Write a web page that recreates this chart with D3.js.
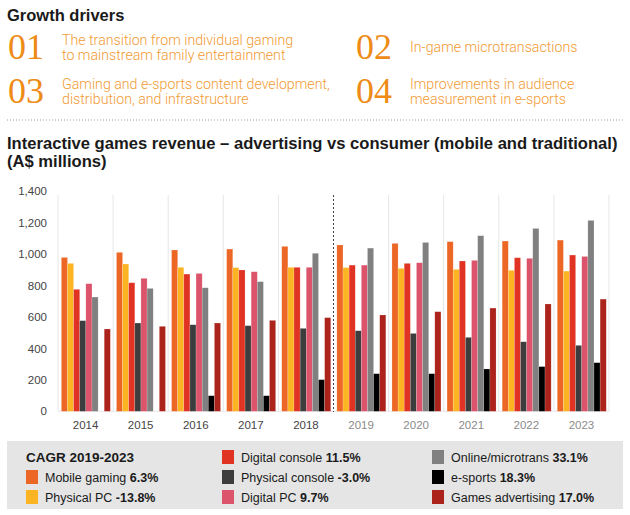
<!DOCTYPE html>
<html>
<head>
<meta charset="utf-8">
<script src="https://cdn.jsdelivr.net/npm/d3@7"></script>
<style>
  body { margin: 0; background: #fff; }
  svg { display: block; font-family: "Liberation Sans", Arial, sans-serif; }
</style>
</head>
<body>
<div id="chart"></div>
<script>
// Years on the x axis (2019 onward are forecast)
const years = ['2014', '2015', '2016', '2017', '2018', '2019', '2020', '2021', '2022', '2023'];
const forecastFrom = '2019';

// Series values, A$ millions
const mobileGaming     = [978, 1010, 1025, 1031, 1048, 1057, 1067, 1078, 1082, 1088];
const physicalPC       = [940, 936, 915, 913, 915, 913, 908, 902, 896, 891];
const digitalConsole   = [775, 817, 872, 898, 915, 929, 940, 955, 976, 993];
const physicalConsole  = [576, 561, 550, 544, 527, 512, 495, 470, 442, 419];
const digitalPC        = [811, 845, 876, 887, 915, 929, 944, 959, 972, 984];
const onlineMicro      = [726, 781, 785, 824, 1004, 1037, 1073, 1116, 1162, 1213];
const eSports          = [0, 0, 99, 99, 201, 239, 239, 269, 284, 309];
const gamesAdvertising = [523, 540, 561, 578, 595, 612, 633, 656, 682, 713];

// Series names, colours and CAGR labels
const seriesNames = ['Mobile gaming', 'Physical PC', 'Digital console', 'Physical console',
  'Digital PC', 'Online/microtrans', 'e-sports', 'Games advertising'];
const seriesColors = ['#EC6726', '#FDB423', '#E03323', '#3D3D3D', '#DB546B', '#808080', '#000000', '#AC231B'];
const seriesCagr = ['6.3%', '-13.8%', '11.5%', '-3.0%', '9.7%', '33.1%', '18.3%', '17.0%'];
const seriesValues = [mobileGaming, physicalPC, digitalConsole, physicalConsole,
  digitalPC, onlineMicro, eSports, gamesAdvertising];

// Value axis ticks
const yTicks = [0, 200, 400, 600, 800, 1000, 1200, 1400];

// Growth drivers text
const driverNumbers = ['01', '02', '03', '04'];
const driverLines = [
  ['The transition from individual gaming', 'to mainstream family entertainment'],
  ['In-game microtransactions'],
  ['Gaming and e-sports content development,', 'distribution, and infrastructure'],
  ['Improvements in audience', 'measurement in e-sports']
];

// Legend placement order: [column, row]
const legendSlots = [[0, 1], [0, 2], [1, 0], [1, 1], [1, 2], [2, 0], [2, 1], [2, 2]];

/*------------------------------------------------------*/

const width = 630, height = 515;
const svg = d3.select('#chart').append('svg')
  .attr('width', width)
  .attr('height', height);

/*
 * Header: growth drivers
 */
svg.append('text')
  .attr('x', 7).attr('y', 21)
  .style('font-size', '16.5px').style('font-weight', 'bold').style('fill', '#1a1a1a')
  .text('Growth drivers');

const driverPos = [[7, 41], [355, 41], [7, 85], [355, 85]];
driverNumbers.forEach((num, i) => {
  const [x, y] = driverPos[i];
  svg.append('text')
    .attr('x', x + 1).attr('y', y + 18)
    .style('font-family', '"Liberation Serif", "DejaVu Serif", serif')
    .style('font-size', '36px').style('fill', '#EE8B16')
    .text(num);
  const lines = driverLines[i];
  const top = lines.length === 1 ? y + 11 : y + 4;
  lines.forEach((line, j) => {
    svg.append('text')
      .attr('x', x + 55).attr('y', top + j * 14.5)
      .style('font-family', 'Roboto, Lato, sans-serif')
      .style('font-weight', 300)
      .style('font-size', '14.2px').style('fill', '#F29A33')
      .text(line);
  });
});

// Dotted separator
svg.append('line')
  .attr('x1', 7).attr('x2', 623).attr('y1', 120).attr('y2', 120)
  .style('stroke', '#9a9a9a').style('stroke-width', 1).style('stroke-dasharray', '1,2');

// Chart title
svg.append('text')
  .attr('x', 7).attr('y', 149)
  .style('font-size', '16.6px').style('font-weight', 'bold').style('fill', '#1a1a1a')
  .text('Interactive games revenue \u2013 advertising vs consumer (mobile and traditional)');
svg.append('text')
  .attr('x', 7).attr('y', 167)
  .style('font-size', '16.6px').style('font-weight', 'bold').style('fill', '#1a1a1a')
  .text('(A$ millions)');

/*
 * Bar chart
 */
const x0 = d3.scaleBand()
  .domain(years)
  .range([58, 609])
  .padding(0);

const x1 = d3.scaleBand()
  .domain(d3.range(seriesNames.length))
  .range([0, x0.bandwidth()])
  .paddingInner(0)
  .paddingOuter(0.5)
  .align(0.55);

const y = d3.scaleLinear()
  .domain([0, 1400])
  .range([411.3, 191]);

// Vertical separators between years
const grid = svg.append('g');
years.forEach((yr) => {
  if (yr === forecastFrom) return;
  grid.append('line')
    .attr('x1', x0(yr)).attr('x2', x0(yr))
    .attr('y1', 195).attr('y2', 411)
    .style('stroke', '#e6e6e6').style('stroke-width', 1);
});
grid.append('line')
  .attr('x1', x0.range()[1]).attr('x2', x0.range()[1])
  .attr('y1', 195).attr('y2', 411)
  .style('stroke', '#e6e6e6').style('stroke-width', 1);

// Baseline
grid.append('line')
  .attr('x1', x0.range()[0]).attr('x2', x0.range()[1])
  .attr('y1', y(0)).attr('y2', y(0))
  .style('stroke', '#e6e6e6').style('stroke-width', 1);

// Bars
const rows = years.map((yr, i) => ({ year: yr, values: seriesValues.map((s) => s[i]) }));
const groups = svg.append('g').selectAll('g')
  .data(rows)
  .enter().append('g')
  .attr('transform', (d) => 'translate(' + x0(d.year) + ',0)');

groups.selectAll('rect')
  .data((d) => d.values.map((v, k) => ({ k: k, v: v })))
  .enter().append('rect')
  .attr('x', (d) => x1(d.k))
  .attr('width', x1.bandwidth())
  .attr('y', (d) => y(d.v))
  .attr('height', (d) => y(0) - y(d.v))
  .style('fill', (d) => seriesColors[d.k])
  .style('stroke', 'rgba(255,255,255,0.35)')
  .style('stroke-width', 0.5);

// Forecast divider
svg.append('line')
  .attr('x1', x0(forecastFrom)).attr('x2', x0(forecastFrom))
  .attr('y1', 195).attr('y2', 412)
  .style('stroke', '#444').style('stroke-width', 1).style('stroke-dasharray', '2,2');

// Y axis labels
const yAxis = d3.axisLeft(y)
  .tickValues(yTicks)
  .tickFormat(d3.format(','))
  .tickSize(0)
  .tickPadding(0);
const yAxisG = svg.append('g')
  .attr('transform', 'translate(47,0)')
  .call(yAxis);
yAxisG.select('.domain').remove();
yAxisG.selectAll('text')
  .style('font-family', '"Liberation Sans", Arial, sans-serif')
  .style('font-size', '11.5px').style('fill', '#444');

// X axis labels
const xAxis = d3.axisBottom(x0).tickSize(0).tickPadding(0);
const xAxisG = svg.append('g')
  .attr('transform', 'translate(0,420)')
  .call(xAxis);
xAxisG.select('.domain').remove();
xAxisG.selectAll('text')
  .attr('dy', '0.75em')
  .style('font-family', '"Liberation Sans", Arial, sans-serif')
  .style('font-size', '11.5px')
  .style('fill', (d) => (d >= forecastFrom ? '#8a8a8a' : '#444'));

/*
 * Legend
 */
svg.append('rect')
  .attr('x', 7).attr('y', 441).attr('width', 616).attr('height', 68)
  .style('fill', '#e5e5e5');

svg.append('text')
  .attr('x', 26).attr('y', 462)
  .style('font-size', '13.5px').style('font-weight', 'bold').style('fill', '#1a1a1a')
  .text('CAGR 2019-2023');

const colX = [26, 222, 432];
const rowY = [457, 477, 497];
seriesNames.forEach((name, k) => {
  const [c, r] = legendSlots[k];
  svg.append('rect')
    .attr('x', colX[c]).attr('y', rowY[r] - 7)
    .attr('width', 12).attr('height', 14)
    .style('fill', seriesColors[k]);
  const t = svg.append('text')
    .attr('x', colX[c] + 19).attr('y', rowY[r] + 4.5)
    .style('font-size', '12.5px').style('fill', '#1a1a1a');
  t.append('tspan').text(name + ' ');
  t.append('tspan').style('font-weight', 'bold').text(seriesCagr[k]);
});
</script>
</body>
</html>
